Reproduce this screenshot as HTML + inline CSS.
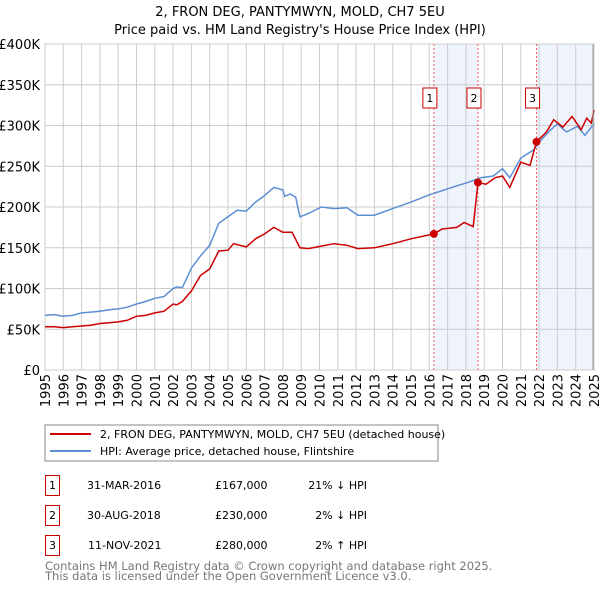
<!DOCTYPE html>
<html><head><meta charset="utf-8"><style>
body{margin:0;background:#fff;font-family:"Liberation Sans","DejaVu Sans",sans-serif;}
svg text{font-family:"DejaVu Sans","Liberation Sans",sans-serif;}
</style></head><body>
<svg id="chart" width="600" height="590" viewBox="0 0 600 590" xmlns="http://www.w3.org/2000/svg">
<text x="300" y="16" text-anchor="middle" font-size="13">2, FRON DEG, PANTYMWYN, MOLD, CH7 5EU</text>
<text x="300" y="34" text-anchor="middle" font-size="13">Price paid vs. HM Land Registry's House Price Index (HPI)</text>
<g id="plot"></g>
<g>
<rect x="45" y="425" width="393" height="36" fill="#fff" stroke="#888"/>
<line x1="50" y1="434" x2="91" y2="434" stroke="#cc0000" stroke-width="2"/>
<text x="100" y="438" font-size="11">2, FRON DEG, PANTYMWYN, MOLD, CH7 5EU (detached house)</text>
<line x1="50" y1="451" x2="91" y2="451" stroke="#5b8fd4" stroke-width="2"/>
<text x="100" y="455" font-size="11">HPI: Average price, detached house, Flintshire</text>
</g>
<g font-size="11">
<rect x="45.5" y="475.5" width="14" height="20" fill="none" stroke="#cc0000"/><text x="52.5" y="489" text-anchor="middle">1</text>
<text x="87" y="489">31-MAR-2016</text><text x="215" y="489">£167,000</text><text x="367" y="489" text-anchor="end">21% ↓ HPI</text>
<rect x="45.5" y="505.5" width="14" height="20" fill="none" stroke="#cc0000"/><text x="52.5" y="519" text-anchor="middle">2</text>
<text x="87" y="519">30-AUG-2018</text><text x="215" y="519">£230,000</text><text x="367" y="519" text-anchor="end">2% ↓ HPI</text>
<rect x="45.5" y="535.5" width="14" height="20" fill="none" stroke="#cc0000"/><text x="52.5" y="549" text-anchor="middle">3</text>
<text x="88" y="549">11-NOV-2021</text><text x="215" y="549">£280,000</text><text x="367" y="549" text-anchor="end">2% ↑ HPI</text>
</g>
<text x="45" y="570" font-size="11.5" fill="#777">Contains HM Land Registry data © Crown copyright and database right 2025.</text>
<text x="45" y="580" font-size="11.5" fill="#777">This data is licensed under the Open Government Licence v3.0.</text>
</svg>
<script>
const hpiYears=[1995,1995.5,1996,1996.5,1997,1997.5,1998,1998.5,1999,1999.5,2000,2000.5,2001,2001.5,2002,2002.2,2002.5,2003,2003.5,2004,2004.5,2005,2005.5,2006,2006.5,2007,2007.5,2008,2008.1,2008.4,2008.7,2008.93,2009.4,2010.1,2010.8,2011.5,2012.1,2013,2014,2015,2016,2016.7,2017.5,2018.1,2018.8,2019.5,2020,2020.4,2021,2021.7,2022.1,2022.6,2023,2023.5,2024.1,2024.5,2025];
const hpiValues=[67,68,66,67,70,71,72,74,75,77,81,84,88,90,100,102,101,125,140,153,180,188,196,195,206,214,224,221,213,216,212,188,192,200,198,199,190,190,198,206,215,220,226,230,236,238,247,236,260,270,282,294,302,292,299,288,302];
const redYears=[1995,1995.5,1996,1996.5,1997,1997.5,1998,1998.5,1999,1999.5,2000,2000.5,2001,2001.5,2002,2002.2,2002.5,2003,2003.5,2004,2004.5,2005,2005.3,2006,2006.5,2007,2007.5,2008,2008.5,2008.93,2009.4,2010.1,2010.8,2011.5,2012.1,2013,2014,2015,2016.25,2016.7,2017.5,2017.9,2018.4,2018.66,2019.1,2019.6,2020,2020.4,2021,2021.5,2021.86,2022.4,2022.8,2023.3,2023.8,2024.3,2024.6,2024.85,2025];
const redValues=[53,53,52,53,54,55,57,58,59,61,66,67,70,72,81,80,84,97,116,124,146,147,155,151,161,167,175,169,169,150,149,152,155,153,149,150,155,161,167,173,175,181,176,230,228,236,238,224,255,251,280,292,307,298,311,295,309,303,319];
const sales=[[2016.25,167,'1'],[2018.66,230,'2'],[2021.86,280,'3']];
const yTicks=[0,50,100,150,200,250,300,350,400];
const yLabels=['£0','£50K','£100K','£150K','£200K','£250K','£300K','£350K','£400K'];
const xStart=1995,xEnd=2025;
const X0=45,X1=594,Y0=370,Y1=44;
const sx=y=>X0+(y-xStart)/(xEnd-xStart)*(X1-X0);
const sy=v=>Y0-v/400*(Y0-Y1);
const NS='http://www.w3.org/2000/svg';
const plot=document.getElementById('plot');
function mk(t,a){const e=document.createElementNS(NS,t);for(const k in a)e.setAttribute(k,a[k]);plot.appendChild(e);return e;}
// shaded bands
let b1=mk('rect',{x:sx(sales[0][0]),y:Y1,width:sx(sales[1][0])-sx(sales[0][0]),height:Y0-Y1,fill:'#eef3fc'});


let b2=mk('rect',{x:sx(sales[2][0]),y:Y1,width:X1-sx(sales[2][0]),height:Y0-Y1,fill:'#eef3fc'});


for(let i=0;i<yTicks.length;i++){
 const y=sy(yTicks[i]);
 let g=mk('line',{x1:X0,x2:X1,y1:y,y2:y,stroke:'#ccc','stroke-width':1});
 
 
 let t=mk('text',{x:40,y:y+5,'text-anchor':'end','font-size':13});
 
 
 t.textContent=yLabels[i];
}
for(let yr=xStart;yr<=xEnd;yr++){
 const x=sx(yr);
 let g=mk('line',{x1:x,x2:x,y1:Y1,y2:Y0,stroke:'#ccc','stroke-width':1});
 
 
 let t=mk('text',{x:0,y:0,'font-size':13,'text-anchor':'end',transform:`translate(${x+5},374) rotate(-90)`});
 
 
 t.textContent=yr;
}
let br=mk('rect',{x:X0,y:Y1,width:X1-X0,height:Y0-Y1,fill:'none',stroke:'#ccc'});


sales.forEach(s=>{
 let l=mk('line',{x1:sx(s[0]),x2:sx(s[0]),y1:Y1,y2:Y0,stroke:'#f06060','stroke-dasharray':'2,2','stroke-width':1});
 
 
 let r=mk('rect',{x:sx(s[0])-11,y:88,width:14,height:20,fill:'#fff',stroke:'#cc0000'});
 
 
 let t=mk('text',{x:sx(s[0])-4,y:102,'text-anchor':'middle','font-size':11});
 
 
 t.textContent=s[2];
});
function path(xs,vs){return xs.map((y,i)=>(i?'L':'M')+sx(y).toFixed(1)+','+sy(vs[i]).toFixed(1)).join(' ');}
let hp=mk('path',{d:path(hpiYears,hpiValues),fill:'none',stroke:'#5b8fd4','stroke-width':1.5});


let rp=mk('path',{d:path(redYears,redValues),fill:'none',stroke:'#cc0000','stroke-width':1.5});


sales.forEach(s=>{
 let c=mk('circle',{cx:sx(s[0]),cy:sy(s[1]),r:4,fill:'#cc0000'});
 
 
});
let re=mk('line',{x1:X1-1,x2:X1-1,y1:Y1,y2:Y0,stroke:'#999','stroke-width':1});


</script>
</body></html>
